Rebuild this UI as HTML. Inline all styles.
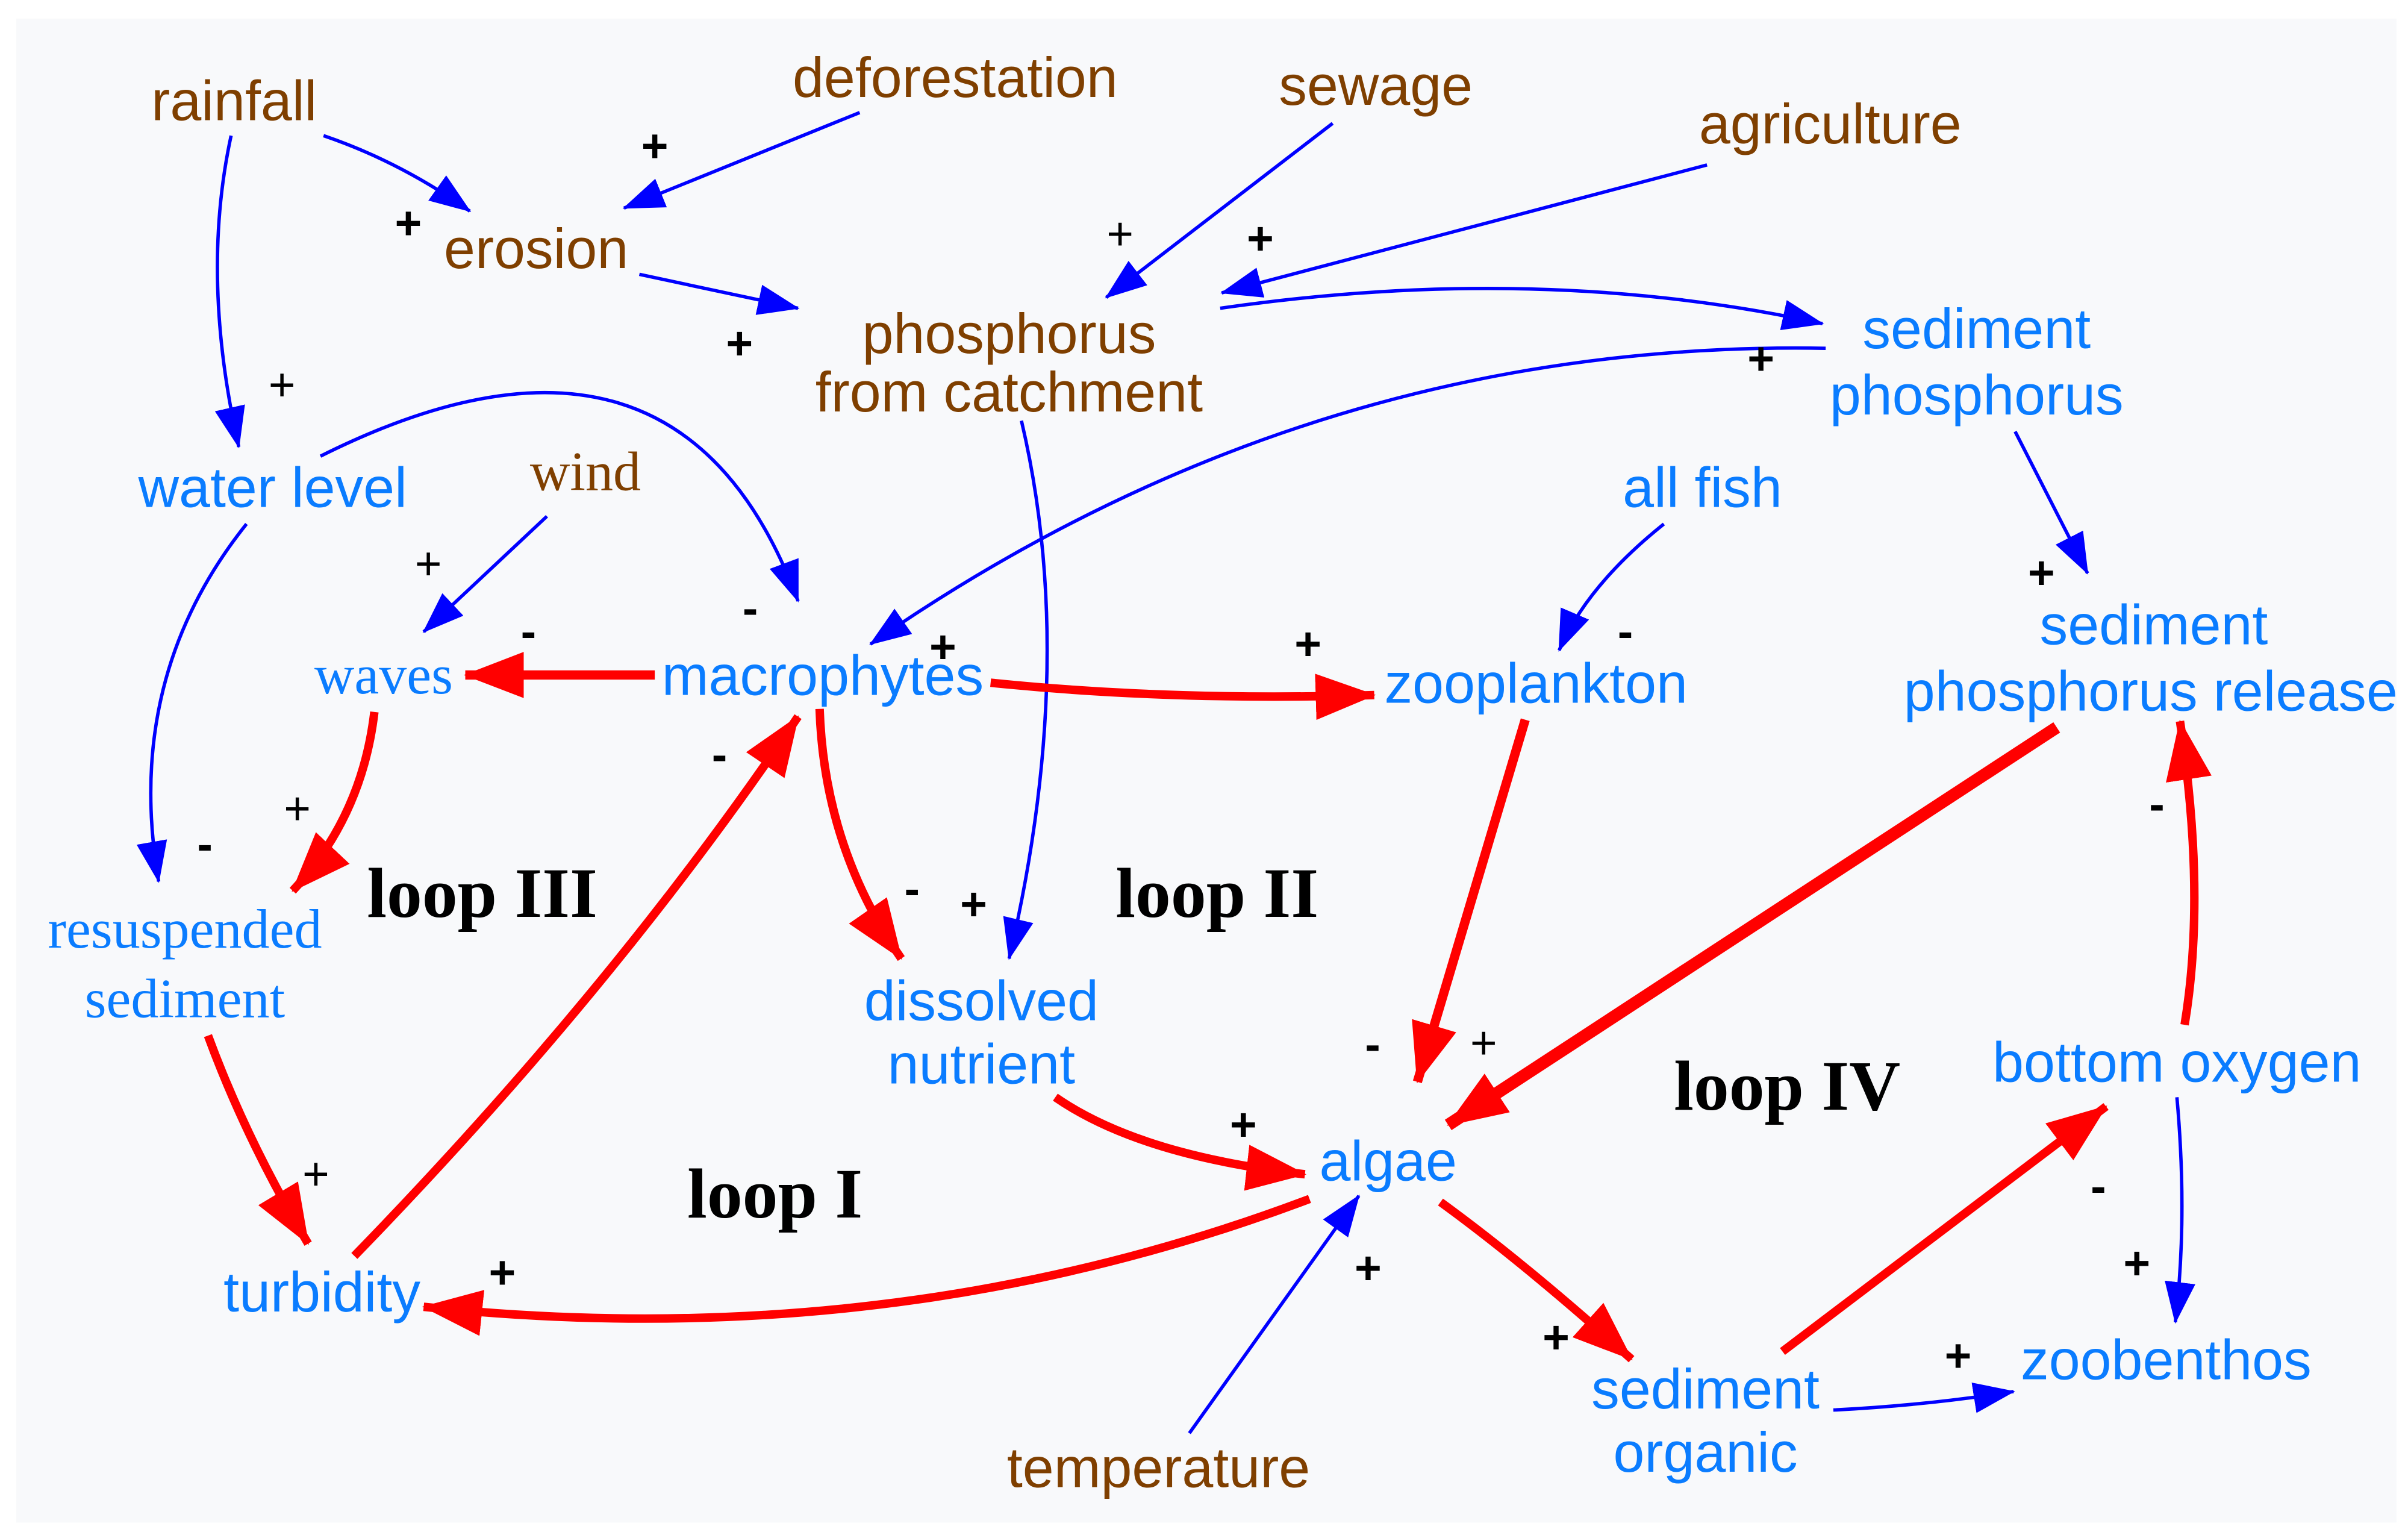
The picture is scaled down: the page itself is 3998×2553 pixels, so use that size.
<!DOCTYPE html>
<html><head><meta charset="utf-8"><style>
html,body{margin:0;padding:0;background:#fff;}
svg{display:block;}
.br{fill:#7f3f00;font-family:"Liberation Sans",sans-serif;font-size:36.5px;text-anchor:middle;}
.bl{fill:#0a7cff;font-family:"Liberation Sans",sans-serif;font-size:36.5px;text-anchor:middle;}
.sr{font-family:"Liberation Serif",serif;font-size:36px;}
.lp{fill:#000;font-family:"Liberation Serif",serif;font-size:46px;font-weight:bold;text-anchor:middle;}
.sg{fill:#000;font-family:"Liberation Sans",sans-serif;font-size:30px;font-weight:bold;text-anchor:middle;}
.sgt{fill:#000;font-family:"Liberation Sans",sans-serif;font-size:30px;text-anchor:middle;}
.b{fill:none;stroke:#0000ff;stroke-width:2.2;marker-end:url(#mb);}
.r{fill:none;stroke:#ff0000;stroke-width:5.5;marker-end:url(#mr);}
</style></head><body>
<svg width="3998" height="2553" viewBox="0 0 1563 998" xmlns="http://www.w3.org/2000/svg">
<defs>
<marker id="mb" markerUnits="userSpaceOnUse" markerWidth="28" markerHeight="20" refX="26" refY="10" orient="auto"><path d="M0,0 L27,10 L0,20 z" fill="#0000ff"/></marker>
<marker id="mr" markerUnits="userSpaceOnUse" markerWidth="42" markerHeight="32" refX="38" refY="15" orient="auto"><path d="M0,0 L39,15 L0,30 z" fill="#ff0000"/></marker>
</defs>
<rect x="0" y="0" width="1563" height="998" fill="#fff"/>
<rect x="10.5" y="12" width="1545" height="976" fill="#f8f9fb"/>

<path class="b" d="M210,88 Q260,105 305,137"/>
<path class="b" d="M558,73 L405,135"/>
<path class="b" d="M150,88 Q130,180 155,290"/>
<path class="b" d="M415,178 L518,200"/>
<path class="b" d="M865,80 L718,193"/>
<path class="b" d="M1108,107 L793,190"/>
<path class="b" d="M792,200 Q1000,170 1183,210"/>
<path class="b" d="M1185,226 Q850,220 565,418"/>
<path class="b" d="M208,296 Q440,180 518,390"/>
<path class="b" d="M355,335 L275,410"/>
<path class="b" d="M160,340 Q80,440 103,572"/>
<path class="b" d="M663,273 Q700,430 655,622"/>
<path class="b" d="M1308,280 L1355,372"/>
<path class="b" d="M1080,340 Q1030,380 1012,422"/>
<path class="b" d="M772,930 L882,776"/>
<path class="b" d="M1413,712 Q1420,790 1412,858"/>
<path class="b" d="M1190,915 Q1250,912 1307,903"/>

<path class="r" style="stroke-width:6" d="M425,438 L302,438"/>
<path class="r" d="M643,443 Q760,455 892,451"/>
<path class="r" d="M243,462 Q235,530 190,578"/>
<path class="r" d="M532,460 Q535,550 585,622"/>
<path class="r" d="M135,672 Q160,740 200,807"/>
<path class="r" d="M230,815 Q400,640 518,465"/>
<path class="r" style="stroke-width:6" d="M990,467 L920,702"/>
<path class="r" style="stroke-width:8" d="M1335,472 L940,730"/>
<path class="r" d="M685,712 Q740,750 847,762"/>
<path class="r" d="M850,778 Q580,880 275,848"/>
<path class="r" d="M935,780 Q990,820 1059,882"/>
<path class="r" d="M1157,877 L1367,718"/>
<path class="r" d="M1418,665 Q1432,580 1415,468"/>

<text class="br" x="152" y="78">rainfall</text>
<text class="br" x="620" y="63">deforestation</text>
<text class="br" x="893" y="68">sewage</text>
<text class="br" x="1188" y="93">agriculture</text>
<text class="br" x="348" y="174">erosion</text>
<text class="br" x="655" y="229">phosphorus</text>
<text class="br" x="655" y="267">from catchment</text>
<text class="br" x="752" y="965">temperature</text>
<text class="br sr" x="380" y="318">wind</text>

<text class="bl" x="177" y="329">water level</text>
<text class="bl" x="1283" y="226">sediment</text>
<text class="bl" x="1283" y="269">phosphorus</text>
<text class="bl" x="1105" y="329">all fish</text>
<text class="bl" x="1398" y="418">sediment</text>
<text class="bl" x="1396" y="461">phosphorus release</text>
<text class="bl sr" x="249" y="450">waves</text>
<text class="bl" x="534" y="451">macrophytes</text>
<text class="bl" x="997" y="456">zooplankton</text>
<text class="bl sr" x="120" y="615">resuspended</text>
<text class="bl sr" x="120" y="660">sediment</text>
<text class="bl" x="637" y="662">dissolved</text>
<text class="bl" x="637" y="703">nutrient</text>
<text class="bl" x="901" y="766">algae</text>
<text class="bl" x="1413" y="702">bottom oxygen</text>
<text class="bl" x="209" y="851">turbidity</text>
<text class="bl" x="1107" y="914">sediment</text>
<text class="bl" x="1107" y="955">organic</text>
<text class="bl" x="1406" y="895">zoobenthos</text>

<text class="lp" x="313" y="595">loop III</text>
<text class="lp" x="790" y="595">loop II</text>
<text class="lp" x="503" y="790">loop I</text>
<text class="lp" x="1160" y="720">loop IV</text>

<text class="sg" x="425" y="105">+</text>
<text class="sg" x="265" y="155">+</text>
<text class="sgt" x="183" y="260">+</text>
<text class="sg" x="480" y="233">+</text>
<text class="sgt" x="727" y="162">+</text>
<text class="sg" x="818" y="165">+</text>
<text class="sg" x="1143" y="243">+</text>
<text class="sgt" x="278" y="376">+</text>
<text class="sg" x="343" y="420">-</text>
<text class="sg" x="487" y="405">-</text>
<text class="sg" x="612" y="430">+</text>
<text class="sg" x="849" y="428">+</text>
<text class="sg" x="1055" y="420">-</text>
<text class="sg" x="1325" y="382">+</text>
<text class="sgt" x="193" y="535">+</text>
<text class="sg" x="133" y="558">-</text>
<text class="sg" x="467" y="500">-</text>
<text class="sg" x="592" y="587">-</text>
<text class="sg" x="632" y="597">+</text>
<text class="sgt" x="205" y="772">+</text>
<text class="sg" x="891" y="688">-</text>
<text class="sgt" x="963" y="687">+</text>
<text class="sg" x="807" y="740">+</text>
<text class="sg" x="326" y="836">+</text>
<text class="sg" x="888" y="833">+</text>
<text class="sg" x="1010" y="878">+</text>
<text class="sg" x="1362" y="780">-</text>
<text class="sg" x="1387" y="830">+</text>
<text class="sg" x="1271" y="890">+</text>
<text class="sg" x="1400" y="532">-</text>
</svg>
</body></html>
